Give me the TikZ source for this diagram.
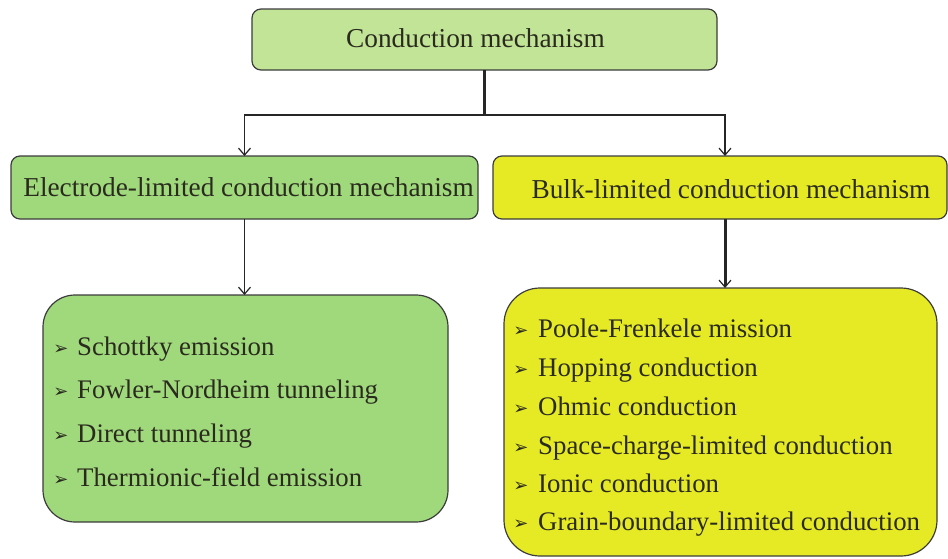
\documentclass[tikz,border=0pt]{standalone}
\usepackage{fontspec}
\setmainfont{Liberation Serif}
\newfontfamily\serifont{Liberation Serif}
\newfontfamily\dingfont{DejaVu Sans}
\usetikzlibrary{arrows.meta}
\definecolor{topfill}{HTML}{C1E497}
\definecolor{greenfill}{HTML}{9FD97C}
\definecolor{yellowfill}{HTML}{E6EA24}
\definecolor{edge}{HTML}{3C3C3C}
\definecolor{ink}{HTML}{2A2A1E}
\begin{document}
\begin{tikzpicture}[x=1pt,y=-1pt,
  box/.style={draw=edge,line width=1.2pt,inner sep=0pt,outer sep=0pt,anchor=north west},
  title/.style={font=\serifont\fontsize{27.3}{30}\selectfont,text=ink,inner sep=0pt},
  item/.style={font=\serifont\fontsize{26.8}{30}\selectfont,text=ink,inner sep=0pt,anchor=base west},
  bul/.style={font=\dingfont\fontsize{18}{18}\selectfont,text=ink,inner sep=0pt,anchor=base},
  link/.style={line width=1.2pt,draw=black!85},
  heavy/.style={line width=3pt},
  tip/.style={-{Straight Barb[length=7pt,width=12pt,line width=1.2pt]}}]
\useasboundingbox (0,0) rectangle (948,558);

% boxes
\node[box,fill=topfill,rounded corners=9pt,minimum width=465pt,minimum height=61pt] (top) at (252,9) {};
\node[box,fill=greenfill,rounded corners=9pt,minimum width=467pt,minimum height=63pt] (elec) at (11,156) {};
\node[box,fill=yellowfill,rounded corners=9pt,minimum width=454pt,minimum height=63pt] (bulk) at (493,156) {};
\node[box,fill=greenfill,rounded corners=32pt,minimum width=405pt,minimum height=227pt] (eitems) at (43,295) {};
\node[box,fill=yellowfill,rounded corners=36pt,minimum width=433pt,minimum height=268pt] (bitems) at (504,288) {};

% titles
\node[title] (ttop) at (475.5,38) {Conduction mechanism};
\node[title] (telec) at (248.5,187) {Electrode-limited conduction mechanism};
\node[title] (tbulk) at (731,189) {Bulk-limited conduction mechanism};

% items (y = baseline)
\foreach \t/\y [count=\i] in {Schottky emission/355,Fowler-Nordheim tunneling/398,Direct tunneling/442,Thermionic-field emission/486}{
  \node[item] (e\i) at (77,\y) {\t};
  \node[bul] (eb\i) at (61,\y-1) {➢};
}
\foreach \t/\y [count=\i] in {Poole-Frenkele mission/337,Hopping conduction/376,Ohmic conduction/415,Space-charge-limited conduction/454,Ionic conduction/492,Grain-boundary-limited conduction/530}{
  \node[item] (b\i) at (538,\y) {\t};
  \node[bul] (bb\i) at (521,\y-1) {➢};
}

% connectors
\coordinate (split) at (484.5,115);
\draw[link,heavy] (top.south) -- (split);
\draw[link,tip] (split) -| (elec.north);
\draw[link,tip] (split) -| ([xshift=5pt]bulk.north);
\draw[link,tip] (elec.south) -- (elec.south |- eitems.north);
\draw[link,heavy,tip] ([xshift=5pt]bulk.south) -- ([xshift=5pt]bulk.south |- bitems.north);
\end{tikzpicture}
\end{document}
